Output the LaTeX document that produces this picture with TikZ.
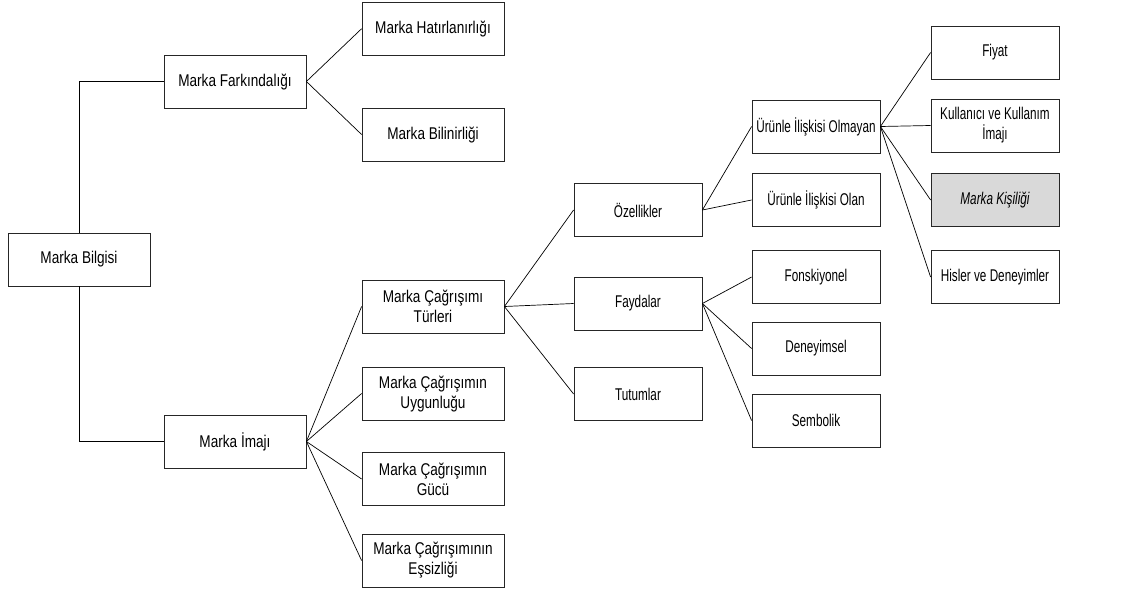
\documentclass[tikz,border=0pt]{standalone}
\usepackage{fontspec}
\setmainfont{Liberation Sans}[FakeStretch=0.8]
\newfontfamily\narrowfont{Liberation Sans}[FakeStretch=0.69]
\begin{document}
\begin{tikzpicture}[x=1pt,y=-1pt,
  box/.style={draw=black!85,line width=0.8pt,fill=white,inner sep=0pt,minimum height=53pt,align=center},
  wide/.style={box,minimum width=142pt,font=\fontsize{17}{20}\selectfont},
  narrow/.style={box,minimum width=128pt,font=\narrowfont\fontsize{17}{20}\selectfont},
  conn/.style={draw=black,line width=0.7pt}]
\useasboundingbox (0,0) rectangle (1140,594);
% column 1
\node[wide] (bilgi) at (79,259.5) {Marka Bilgisi};
% column 2
\node[wide] (fark) at (235,81.5) {Marka Farkındalığı};
\node[wide] (imaj) at (235,441.5) {Marka İmajı};
% column 3
\node[wide] (hatir) at (433,28.7) {Marka Hatırlanırlığı};
\node[wide] (bilin) at (433,134.5) {Marka Bilinirliği};
\node[wide] (turler) at (433,306.5) {Marka Çağrışımı\\Türleri};
\node[wide] (uygun) at (433,393.5) {Marka Çağrışımın\\Uygunluğu};
\node[wide] (guc) at (433,479) {Marka Çağrışımın\\Gücü};
\node[wide] (essiz) at (433,560.5) {Marka Çağrışımının\\Eşsizliği};
% column 4
\node[narrow] (ozel) at (638,210) {Özellikler};
\node[narrow] (fayda) at (638,303.5) {Faydalar};
\node[narrow] (tutum) at (638,394) {Tutumlar};
% column 5
\node[narrow] (olmayan) at (816,126.5) {Ürünle İlişkisi Olmayan};
\node[narrow] (olan) at (816,200) {Ürünle İlişkisi Olan};
\node[narrow] (fonk) at (816,277) {Fonskiyonel};
\node[narrow] (deney) at (816,348.5) {Deneyimsel};
\node[narrow] (sembol) at (816,420.5) {Sembolik};
% column 6
\node[narrow] (fiyat) at (995,52.5) {Fiyat};
\node[narrow] (kullan) at (995,125.5) {Kullanıcı ve Kullanım\\İmajı};
\node[narrow,fill=black!15] (kisilik) at (995,200) {\itshape Marka Kişiliği};
\node[narrow] (hisler) at (995,277) {Hisler ve Deneyimler};
% connectors
\draw[conn] (bilgi.north) |- (fark.west);
\draw[conn] (bilgi.south) |- (imaj.west);
\draw[conn] (fark.east) -- (hatir.west);
\draw[conn] (fark.east) -- (bilin.west);
\foreach \c in {turler,uygun,guc,essiz} \draw[conn] (imaj.east) -- (\c.west);
\foreach \c in {ozel,fayda,tutum} \draw[conn] (turler.east) -- (\c.west);
\foreach \c in {olmayan,olan} \draw[conn] (ozel.east) -- (\c.west);
\foreach \c in {fonk,deney,sembol} \draw[conn] (fayda.east) -- (\c.west);
\foreach \c in {fiyat,kullan,kisilik,hisler} \draw[conn] (olmayan.east) -- (\c.west);
\end{tikzpicture}
\end{document}
